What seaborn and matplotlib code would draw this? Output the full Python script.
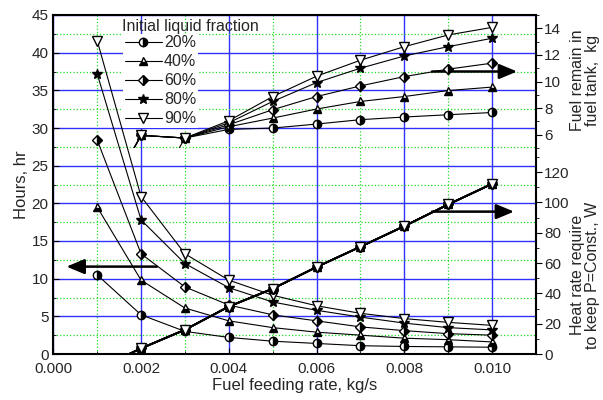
import numpy as np
import matplotlib
matplotlib.use('Agg')
import matplotlib.pyplot as plt
from matplotlib.ticker import MultipleLocator, FixedLocator, FormatStrFormatter
import seaborn as sns

feed = [0.001, 0.002, 0.003, 0.004, 0.005, 0.006, 0.007, 0.008, 0.009, 0.010]
labels = ['20%', '40%', '60%', '80%', '90%']

# hours vs feed rate (left axis)
hours_20 = [10.5, 5.2, 3.0, 2.2, 1.7, 1.4, 1.1, 1.0, 0.95, 0.9]
hours_40 = [19.5, 9.8, 6.1, 4.4, 3.5, 2.9, 2.5, 2.1, 1.9, 1.6]
hours_60 = [28.4, 13.3, 8.9, 6.5, 5.2, 4.4, 3.6, 3.1, 2.7, 2.5]
hours_80 = [37.2, 17.8, 12.0, 8.8, 6.9, 5.8, 4.9, 4.1, 3.5, 3.2]
hours_90 = [41.6, 20.9, 13.3, 9.8, 7.8, 6.4, 5.4, 4.7, 4.2, 3.8]

# fuel remaining in tank, kg (upper right axis)
fuel_20 = [0.0, 0.0, 5.75, 6.4, 6.5, 6.8, 7.13, 7.33, 7.5, 7.67]
fuel_40 = [0.0, 5.95, 5.75, 6.6, 7.25, 7.93, 8.5, 8.87, 9.32, 9.58]
fuel_60 = [0.0, 5.95, 5.75, 6.75, 7.88, 8.87, 9.67, 10.37, 10.93, 11.38]
fuel_80 = [0.0, 5.95, 5.75, 6.9, 8.5, 9.92, 11.0, 11.92, 12.62, 13.25]
fuel_90 = [0.0, 5.95, 5.75, 7.05, 8.87, 10.4, 11.6, 12.62, 13.5, 14.07]

# heat rate needed to keep pressure constant, W (lower right axis)
heat_w = [-10.0, 3.7, 16.0, 31.3, 43.1, 57.4, 70.8, 84.4, 98.7, 112.3]

hours = [hours_20, hours_40, hours_60, hours_80, hours_90]
fuel = [fuel_20, fuel_40, fuel_60, fuel_80, fuel_90]
markers = [('o', 'right', 'black'), ('^', 'bottom', 'black'), ('D', 'right', 'black'),
           ('*', 'full', 'black'), ('v', 'full', 'white')]
msizes = [6, 6, 5.5, 7, 6.5]

sns.set_style('white')
plt.rcParams['font.family'] = ['Liberation Sans', 'DejaVu Sans']
plt.rcParams['axes.linewidth'] = 1.5

fig = plt.figure(figsize=(6.03, 4.0), dpi=100)
ax = fig.add_axes([0.0884, 0.115, 0.8005, 0.8475])
ax_up = fig.add_axes([0.0884, 0.63, 0.8005, 0.3325], sharex=ax)
ax_low = fig.add_axes([0.0884, 0.115, 0.8005, 0.4925], sharex=ax)

handles = []
for i in range(5):
    m, fs, fc = markers[i]
    style = dict(color='black', lw=0.8, marker=m, fillstyle=fs, markersize=msizes[i],
                 markerfacecolor=fc, markerfacecoloralt='white',
                 markeredgecolor='black', markeredgewidth=1.0)
    sns.lineplot(x=feed, y=hours[i], ax=ax, **style)
    sns.lineplot(x=feed, y=fuel[i], ax=ax_up, **style)
    sns.lineplot(x=feed, y=heat_w, ax=ax_low, **dict(style, lw=1.3))
    handles.append(ax.lines[-1])

# main axis
ax.set_xlim(0, 0.011)
ax.set_ylim(0, 45)
ax.xaxis.set_major_locator(MultipleLocator(0.002))
ax.xaxis.set_minor_locator(MultipleLocator(0.001))
ax.xaxis.set_major_formatter(FormatStrFormatter('%.3f'))
ax.yaxis.set_major_locator(MultipleLocator(5))
ax.yaxis.set_minor_locator(MultipleLocator(2.5))
ax.grid(which='major', color='#3030ff', lw=1.0)
ax.grid(which='minor', color='#22dd22', lw=0.9, ls=':')
ax.tick_params(which='both', direction='in', labelsize=11, right=False, top=False,
               bottom=True, left=True, color='black')
ax.tick_params(axis='x', which='both', pad=6)
ax.tick_params(which='major', length=4)
ax.tick_params(which='minor', length=2.5)
ax.set_xlabel('Fuel feeding rate, kg/s', fontsize=12, labelpad=1)
ax.set_ylabel('Hours, hr', fontsize=12, labelpad=2)
for s in ax.spines.values():
    s.set_color('black')
    s.set_linewidth(1.5)

# right layers
for a in (ax_up, ax_low):
    a.patch.set_alpha(0)
    for s in a.spines.values():
        s.set_visible(False)
    a.grid(False)
    a.yaxis.tick_right()
    a.yaxis.set_label_position('right')
    a.tick_params(axis='x', which='both', bottom=False, labelbottom=False)
    a.tick_params(axis='y', which='both', direction='out', labelsize=11, left=False,
                  right=True, color='black', pad=1.5)
    a.tick_params(axis='y', which='major', length=4.5)
    a.tick_params(axis='y', which='minor', length=2.5)

ax_up.set_ylim(5, 15)
ax_up.yaxis.set_major_locator(FixedLocator([6, 8, 10, 12, 14]))
ax_up.yaxis.set_minor_locator(FixedLocator([5, 7, 9, 11, 13, 15]))
ax_up.set_ylabel('Fuel remain in\nfuel tank,  kg', fontsize=11.5, linespacing=1.0)
ax_up.yaxis.set_label_coords(1.071, 0.51)

ax_low.set_ylim(0, 130)
ax_low.yaxis.set_major_locator(FixedLocator([0, 20, 40, 60, 80, 100, 120]))
ax_low.yaxis.set_minor_locator(FixedLocator([10, 30, 50, 70, 90, 110, 130]))
ax_low.set_ylabel('Heat rate require\nto keep P=Const., W', fontsize=11.5, linespacing=1.0)
ax_low.yaxis.set_label_coords(1.071, 0.40)

# arrows pointing to each series' axis
arrow = dict(arrowstyle='-|>,head_length=0.6,head_width=0.25', color='black', lw=1.8,
             mutation_scale=18, shrinkA=0, shrinkB=0)
ax.annotate('', xy=(0.0003, 11.6), xytext=(0.00236, 11.6), arrowprops=arrow)
ax.annotate('', xy=(0.01057, 37.5), xytext=(0.00863, 37.5), arrowprops=arrow)
ax.annotate('', xy=(0.0105, 18.9), xytext=(0.00863, 18.9), arrowprops=arrow)

leg = ax.legend(handles, labels, loc='upper left', bbox_to_anchor=(0.145, 0.945),
                fontsize=11.5, frameon=True, facecolor='white', edgecolor='none',
                framealpha=1, fancybox=False, borderpad=0.1, handlelength=2.3,
                handletextpad=0.15, labelspacing=0.25, borderaxespad=0)
ax.text(0.142, 0.965, 'Initial liquid fraction', transform=ax.transAxes,
        fontsize=11.5, ha='left', va='center')

fig.savefig('out.png', dpi=100)
